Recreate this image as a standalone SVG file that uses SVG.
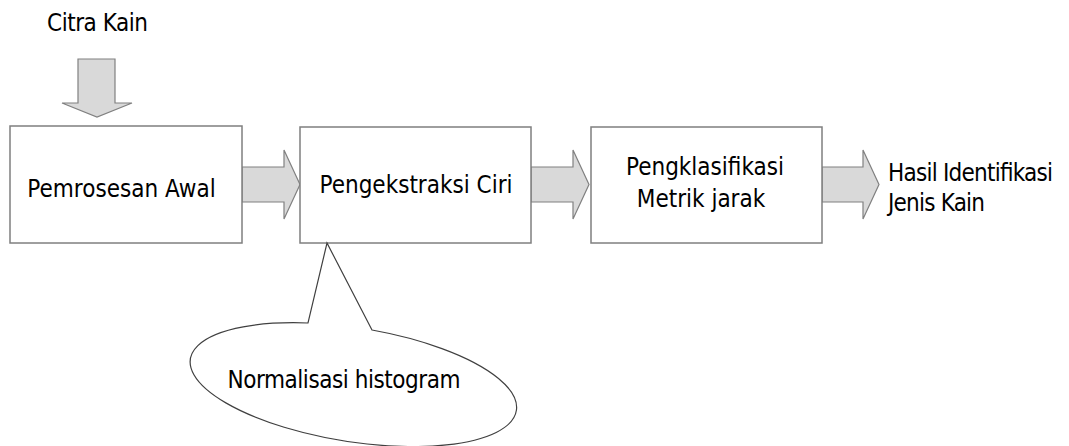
<svg xmlns="http://www.w3.org/2000/svg" width="1069" height="446" viewBox="0 0 1069 446">
<style>
.box{fill:#fff;stroke:#7f7f7f;stroke-width:1.5}
.arr{fill:#d9d9d9;stroke:#808080;stroke-width:1.2;stroke-linejoin:miter}
.t{font-family:"DejaVu Sans Condensed","DejaVu Sans",sans-serif;font-size:24px;fill:#000}
.m{text-anchor:middle}
</style>
<rect width="1069" height="446" fill="#fff"/>
<g id="connectors">
<polygon class="arr" points="78,59 115,59 115,103 132,103 97,117 62,103 78,103"/>
<polygon class="arr" points="242,167 284,167 284,150 300,184.5 284,219 284,202 242,202"/>
<polygon class="arr" points="531,167 573,167 573,150 589,184.5 573,219 573,202 531,202"/>
<polygon class="arr" points="822,167 863,167 863,150 879,184.5 863,219 863,202 822,202"/>
</g>
<g id="input"><text class="t" x="47" y="31" textLength="101">Citra Kain</text></g>
<g id="pemrosesan">
<rect class="box" x="10" y="126" width="232" height="117"/>
<text class="t m" x="121.5" y="197">Pemrosesan Awal</text>
</g>
<g id="ekstraksi">
<rect class="box" x="300" y="127" width="231" height="116"/>
<text class="t m" x="416" y="193">Pengekstraksi Ciri</text>
</g>
<g id="klasifikasi">
<rect class="box" x="591" y="127" width="231" height="116"/>
<text class="t m" x="705" y="175">Pengklasifikasi</text>
<text class="t m" x="701" y="207">Metrik jarak</text>
</g>
<g id="output">
<text class="t" x="888" y="181" textLength="165">Hasil Identifikasi</text>
<text class="t" x="888" y="211" textLength="97">Jenis Kain</text>
</g>
<g id="callout">
<path d="M372,330 A165 57 9 1 1 308,323 L327,243 Z" fill="#fff" stroke="#404040" stroke-width="1.2"/>
<text class="t m" x="344" y="388" textLength="233">Normalisasi histogram</text>
</g>
</svg>
